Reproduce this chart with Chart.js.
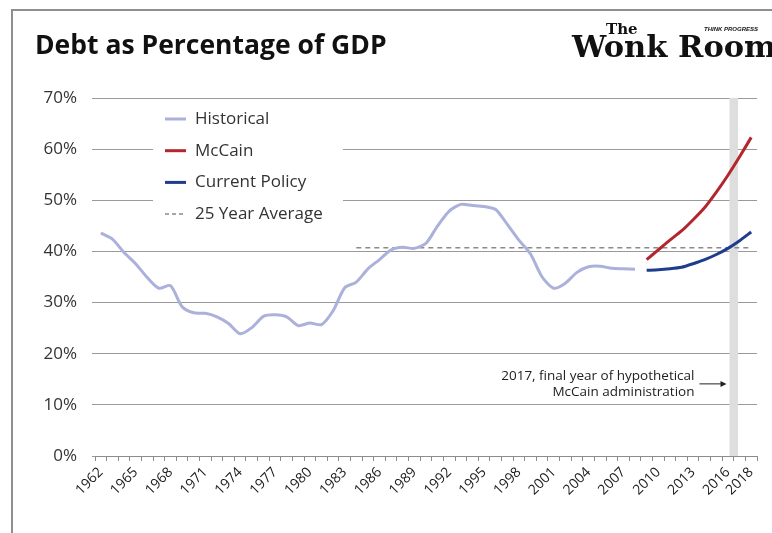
<!DOCTYPE html>
<html>
<head>
<meta charset="utf-8">
<title>Debt as Percentage of GDP</title>
<script src="https://cdn.jsdelivr.net/npm/chart.js@4/dist/chart.umd.min.js"></script>
<style>
  html, body { margin: 0; padding: 0; background: #fff; }
  canvas { display: block; }
</style>
</head>
<body>
<canvas id="debt" width="772" height="533"></canvas>
<script>
// fiscal years on the category axis
const years = [
  1962, 1963, 1964, 1965, 1966, 1967, 1968, 1969, 1970, 1971,
  1972, 1973, 1974, 1975, 1976, 1977, 1978, 1979, 1980, 1981,
  1982, 1983, 1984, 1985, 1986, 1987, 1988, 1989, 1990, 1991,
  1992, 1993, 1994, 1995, 1996, 1997, 1998, 1999, 2000, 2001,
  2002, 2003, 2004, 2005, 2006, 2007, 2008, 2009, 2010, 2011,
  2012, 2013, 2014, 2015, 2016, 2017, 2018
];
const labelYears = [1962, 1965, 1968, 1971, 1974, 1977, 1980, 1983, 1986, 1989,
  1992, 1995, 1998, 2001, 2004, 2007, 2010, 2013, 2016, 2018];

// debt held by the public, % of GDP, 1962-2008
const historical = [
  43.6, 42.4, 39.8, 37.6, 34.9, 32.8, 33.3, 29.2, 28.0, 27.9,
  27.2, 25.9, 23.9, 25.1, 27.3, 27.6, 27.2, 25.5, 26.0, 25.7,
  28.4, 32.9, 34.0, 36.6, 38.4, 40.3, 40.8, 40.6, 41.6, 45.0,
  47.9, 49.2, 49.0, 48.8, 48.2, 45.3, 42.2, 39.5, 35.0, 32.8,
  33.8, 35.9, 37.0, 37.1, 36.7, 36.6, 36.5
];

// projections, 2009-2018
const projYears = [2009, 2010, 2011, 2012, 2013, 2014, 2015, 2016, 2017, 2018];
const mccain = [38.4, 40.3, 42.2, 44.0, 46.2, 48.6, 51.6, 54.9, 58.5, 62.3];
const currentPolicy = [36.3, 36.4, 36.6, 36.9, 37.6, 38.4, 39.4, 40.6, 42.1, 43.8];

const averageFrom = 1984;
const averageValue = 40.7;
const termEndYear = 2017;

const yMin = 0, yMax = 70, yStep = 10;

const histData = years.map((y, i) => i < historical.length ? historical[i] : null);
const projData = arr => years.map(y => {
  const k = projYears.indexOf(y);
  return k < 0 ? null : arr[k];
});
const avgData = years.map(y => y >= averageFrom ? averageValue : null);

const tickFont = '"Open Sans", "Noto Sans", sans-serif';
const textFont = '"Open Sans", "Noto Sans", sans-serif';

// title, logo, frame, shaded final-year band, note and the inset legend
const decorations = {
  id: 'decorations',
  beforeDatasetsDraw(chart) {
    const { ctx, chartArea, scales: { x } } = chart;
    const mid = x.getPixelForValue(years.indexOf(termEndYear) - 0.5);
    const half = x.getPixelForValue(0.37) - x.getPixelForValue(0);
    ctx.save();
    ctx.fillStyle = '#dedede';
    ctx.fillRect(mid - half, chartArea.top, half * 2, chartArea.bottom - chartArea.top);
    ctx.restore();
  },
  afterDatasetsDraw(chart) {
    const { ctx, scales: { x, y } } = chart;
    ctx.save();

    // inset legend on a white box
    ctx.fillStyle = '#fff';
    ctx.fillRect(153, 104, 190, 124);
    ctx.font = '17px ' + textFont;
    ctx.textBaseline = 'middle';
    chart.data.datasets.forEach((ds, i) => {
      const ly = 119 + i * 31.7;
      ctx.strokeStyle = ds.borderColor;
      ctx.lineWidth = ds.borderDash ? 1.5 : 3;
      ctx.setLineDash(ds.borderDash ? [4, 3] : []);
      ctx.beginPath();
      ctx.moveTo(165, ly);
      ctx.lineTo(186, ly);
      ctx.stroke();
      ctx.fillStyle = '#333';
      ctx.fillText(ds.label, 195, ly);
    });
    ctx.setLineDash([]);

    // note pointing at the band
    const bandLeft = x.getPixelForValue(years.indexOf(termEndYear) - 0.87);
    const noteRight = bandLeft - 35;
    const ny = y.getPixelForValue(14.2);
    ctx.fillStyle = '#222';
    ctx.font = '13.5px ' + tickFont;
    ctx.textAlign = 'right';
    ctx.textBaseline = 'alphabetic';
    ctx.fillText(termEndYear + ', final year of hypothetical', noteRight, ny - 3);
    ctx.fillText('McCain administration', noteRight, ny + 13);
    ctx.strokeStyle = '#222';
    ctx.lineWidth = 1;
    ctx.beginPath();
    ctx.moveTo(noteRight + 5, ny + 0.5);
    ctx.lineTo(bandLeft - 8, ny + 0.5);
    ctx.stroke();
    ctx.beginPath();
    ctx.moveTo(bandLeft - 3, ny + 0.5);
    ctx.lineTo(bandLeft - 9, ny - 2.5);
    ctx.lineTo(bandLeft - 9, ny + 3.5);
    ctx.closePath();
    ctx.fillStyle = '#222';
    ctx.fill();
    ctx.restore();
  },
  afterDraw(chart) {
    const { ctx } = chart;
    ctx.save();
    // frame
    ctx.strokeStyle = '#8f8f8f';
    ctx.lineWidth = 2;
    ctx.beginPath();
    ctx.moveTo(12, 533);
    ctx.lineTo(12, 10);
    ctx.lineTo(772, 10);
    ctx.stroke();

    // title
    ctx.fillStyle = '#111';
    ctx.font = 'bold 26.5px ' + textFont;
    ctx.textBaseline = 'alphabetic';
    ctx.fillText('Debt as Percentage of GDP', 35, 54);

    // masthead
    ctx.font = 'bold 15px "DejaVu Serif", serif';
    ctx.fillText('The', 606, 34);
    ctx.font = 'bold 30.5px "DejaVu Serif", serif';
    ctx.fillText('Wonk Room', 572, 57);
    ctx.font = 'italic bold 6px "Liberation Sans", sans-serif';
    ctx.fillText('THINK PROGRESS', 704, 31);
    ctx.restore();
  }
};

const ctx = document.getElementById('debt').getContext('2d');
const chart = new Chart(ctx, {
  type: 'line',
  data: {
    labels: years,
    datasets: [
      {
        label: 'Historical',
        data: histData,
        borderColor: '#abb1da',
        borderWidth: 3,
        tension: 0.25
      },
      {
        label: 'McCain',
        data: projData(mccain),
        borderColor: '#b3262d',
        borderWidth: 3,
        tension: 0.2
      },
      {
        label: 'Current Policy',
        data: projData(currentPolicy),
        borderColor: '#1f3d8c',
        borderWidth: 3,
        tension: 0.2
      },
      {
        label: '25 Year Average',
        data: avgData,
        borderColor: '#8a8a8a',
        borderWidth: 1.5,
        borderDash: [5, 4]
      }
    ]
  },
  options: {
    responsive: false,
    animation: false,
    elements: { point: { radius: 0 }, line: { borderCapStyle: 'butt' } },
    layout: { padding: { left: 20, right: 15, top: 98, bottom: 0 } },
    plugins: {
      legend: { display: false },
      tooltip: { enabled: false }
    },
    scales: {
      x: {
        type: 'category',
        offset: true,
        grid: {
          offset: true,
          drawOnChartArea: false,
          tickLength: 5,
          color: '#8c8c8c'
        },
        border: { color: '#8c8c8c' },
        ticks: {
          autoSkip: false,
          minRotation: 45,
          maxRotation: 45,
          padding: 3,
          color: '#1a1a1a',
          font: { family: tickFont, size: 14 },
          callback: (v, i) => labelYears.includes(years[i]) ? String(years[i]) : ''
        },
        afterFit: s => { s.height = 77; }
      },
      y: {
        min: yMin,
        max: yMax,
        grid: { color: '#9a9a9a', tickLength: 3 },
        border: { display: false },
        ticks: {
          stepSize: yStep,
          padding: 15,
          color: '#333',
          font: { family: textFont, size: 17 },
          callback: v => v + '%'
        },
        afterFit: s => { s.width = 75; }
      }
    }
  },
  plugins: [decorations]
});
</script>
</body>
</html>
